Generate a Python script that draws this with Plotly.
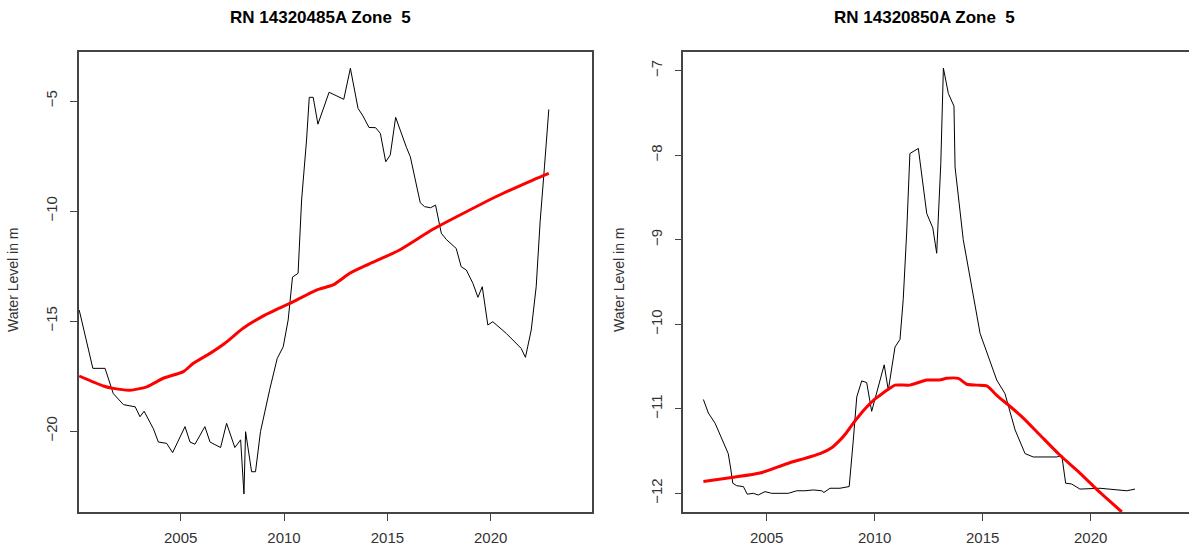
import plotly.graph_objects as go

# Bore RN 14320485A – observed water level (m) and smoothed trend
rn485_year = [2000.09, 2000.75, 2001.34, 2001.58, 2001.74, 2002.23, 2002.80, 2003.03, 2003.23,
              2003.68, 2003.92, 2004.32, 2004.61, 2005.21, 2005.45, 2005.69, 2006.17, 2006.42,
              2006.93, 2007.22, 2007.62, 2007.90, 2007.99, 2008.06, 2008.14, 2008.43, 2008.62,
              2008.86, 2009.31, 2009.67, 2009.96, 2010.20, 2010.41, 2010.68, 2010.85, 2011.09,
              2011.22, 2011.41, 2011.64, 2012.18, 2012.89, 2013.21, 2013.58, 2013.82, 2014.11,
              2014.43, 2014.66, 2014.92, 2015.14, 2015.40, 2015.92, 2016.11, 2016.59, 2016.80,
              2017.09, 2017.33, 2017.61, 2017.85, 2018.33, 2018.57, 2018.82, 2019.14, 2019.38,
              2019.59, 2019.86, 2020.10, 2020.75, 2021.47, 2021.68, 2021.96, 2022.20, 2022.39,
              2022.60, 2022.81]
rn485_level = [-14.50, -17.15, -17.15, -17.83, -18.30, -18.80, -18.90, -19.35, -19.10,
               -19.90, -20.50, -20.56, -20.98, -19.80, -20.50, -20.60, -19.80, -20.50,
               -20.75, -19.65, -20.75, -20.40, -21.60, -22.86, -20.03, -21.85, -21.85,
               -20.03, -18.10, -16.70, -16.17, -14.95, -13.00, -12.83, -9.50, -6.77,
               -4.83, -4.83, -6.05, -4.60, -4.92, -3.51, -5.33, -5.68, -6.20,
               -6.21, -6.47, -7.76, -7.45, -5.74, -7.10, -7.53, -9.62, -9.80,
               -9.85, -9.73, -11.01, -11.29, -11.70, -12.53, -12.68, -13.29, -13.92,
               -13.44, -15.18, -15.03, -15.56, -16.24, -16.65, -15.41, -13.44, -10.49,
               -7.99, -5.38]
rn485_trend_year = [2000.09, 2001.26, 2001.74, 2002.55, 2003.36, 2004.16, 2005.13, 2005.61,
                    2006.42, 2007.14, 2008.02, 2009.07, 2009.64, 2010.28, 2011.57, 2012.37,
                    2013.18, 2014.11, 2015.59, 2017.20, 2018.82, 2020.43, 2022.04, 2022.81]
rn485_trend = [-17.50, -17.95, -18.06, -18.14, -17.99, -17.60, -17.30, -16.92,
               -16.47, -16.01, -15.33, -14.73, -14.47, -14.20, -13.59, -13.36,
               -12.83, -12.41, -11.77, -10.83, -10.03, -9.27, -8.59, -8.29]

# Bore RN 14320850A – observed water level (m) and smoothed trend
rn850_year = [2002.07, 2002.30, 2002.61, 2002.92, 2003.22, 2003.33, 2003.43, 2003.61, 2003.92,
              2004.10, 2004.38, 2004.61, 2004.92, 2005.23, 2006.00, 2006.39, 2006.77, 2007.16,
              2007.55, 2007.65, 2007.93, 2008.39, 2008.82, 2009.01, 2009.17, 2009.40, 2009.63,
              2009.86, 2010.17, 2010.44, 2010.63, 2010.83, 2010.94, 2011.17, 2011.32, 2011.48,
              2011.63, 2012.02, 2012.41, 2012.69, 2012.87, 2013.06, 2013.18, 2013.41, 2013.67,
              2013.72, 2014.10, 2014.88, 2015.19, 2015.65, 2016.03, 2016.50, 2016.96, 2017.34,
              2018.43, 2018.66, 2018.84, 2019.12, 2019.50, 2020.43, 2021.67, 2022.05]
rn850_level = [-10.89, -11.05, -11.17, -11.35, -11.53, -11.70, -11.88, -11.91, -11.92,
               -12.01, -12.00, -12.02, -11.98, -12.00, -12.00, -11.97, -11.97, -11.96,
               -11.97, -11.99, -11.94, -11.94, -11.92, -11.37, -10.86, -10.67, -10.69,
               -11.03, -10.74, -10.48, -10.78, -10.42, -10.27, -10.18, -9.71, -8.92,
               -7.98, -7.92, -8.69, -8.86, -9.16, -8.10, -6.97, -7.27, -7.42,
               -8.14, -9.00, -10.11, -10.34, -10.66, -10.82, -11.25, -11.53, -11.57,
               -11.57, -11.55, -11.88, -11.89, -11.95, -11.94, -11.97, -11.95]
rn850_trend_year = [2002.07, 2003.46, 2004.69, 2005.93, 2007.47, 2008.01, 2008.47, 2008.70,
                    2009.01, 2009.32, 2009.63, 2009.94, 2010.25, 2010.63, 2010.94, 2011.63,
                    2012.41, 2012.99, 2013.33, 2013.87, 2014.26, 2014.72, 2015.19, 2015.65,
                    2016.26, 2016.88, 2017.65, 2018.58, 2019.50, 2020.43, 2021.44]
rn850_trend = [-11.86, -11.81, -11.76, -11.65, -11.53, -11.46, -11.35, -11.28,
               -11.17, -11.07, -10.98, -10.90, -10.84, -10.77, -10.72, -10.72,
               -10.66, -10.66, -10.64, -10.64, -10.71, -10.72, -10.73, -10.84,
               -10.97, -11.11, -11.31, -11.55, -11.76, -11.99, -12.22]

titles = ["RN 14320485A Zone  5", "RN 14320850A Zone  5"]
x_ticks = [2005, 2010, 2015, 2020]
y_ticks_485 = [-5, -10, -15, -20]
y_ticks_850 = [-7, -8, -9, -10, -11, -12]

W, H = 1189, 551
FONT = "Arial, Liberation Sans, Helvetica, sans-serif"
AX = "#444444"
TXT = "#333333"

fig = go.Figure()

fig.add_trace(go.Scatter(x=rn485_year, y=rn485_level, mode="lines",
                         line=dict(color="black", width=1), xaxis="x", yaxis="y"))
fig.add_trace(go.Scatter(x=rn485_trend_year, y=rn485_trend, mode="lines",
                         line=dict(color="#ff0000", width=3, shape="spline", smoothing=0.6),
                         xaxis="x", yaxis="y"))
fig.add_trace(go.Scatter(x=rn850_year, y=rn850_level, mode="lines",
                         line=dict(color="black", width=1), xaxis="x2", yaxis="y2"))
fig.add_trace(go.Scatter(x=rn850_trend_year, y=rn850_trend, mode="lines",
                         line=dict(color="#ff0000", width=3, shape="spline", smoothing=0.6),
                         xaxis="x2", yaxis="y2"))

ydom = [1 - 512 / H, 1 - 52 / H]


def xaxis(domain, rng, anchor):
    return dict(domain=domain, range=rng, anchor=anchor, tickvals=x_ticks,
                ticks="outside", ticklen=7, tickcolor=AX, tickwidth=1,
                showline=True, linecolor=AX, linewidth=1.5, mirror=True,
                showgrid=False, zeroline=False,
                tickfont=dict(family=FONT, size=15, color=TXT),
                ticklabelstandoff=4)


def yaxis(rng, anchor, ticks, mirror):
    return dict(domain=ydom, range=rng, anchor=anchor, tickvals=ticks,
                ticks="outside", ticklen=7, tickcolor=AX, tickwidth=1,
                showline=True, linecolor=AX, linewidth=1.5, mirror=mirror,
                showgrid=False, zeroline=False, tickangle=-90,
                tickfont=dict(family=FONT, size=15, color=TXT),
                ticklabelstandoff=7)


fig.update_layout(
    width=W, height=H,
    margin=dict(l=0, r=0, t=0, b=0),
    paper_bgcolor="white", plot_bgcolor="white",
    showlegend=False,
    xaxis=xaxis([79 / W, 592 / W], [2000.08, 2024.9], "y"),
    yaxis=yaxis([-23.68, -2.77], "x", y_ticks_485, True),
    xaxis2=xaxis([683.3 / W, 1.0], [2001.14, 2024.55], "y2"),
    yaxis2=yaxis([-12.221, -6.779], "x2", y_ticks_850, False),
)

# panel titles
for t, cx in zip(titles, [320, 924]):
    fig.add_annotation(text="<b>%s</b>" % t, x=cx / W, y=1 - 17 / H, xref="paper", yref="paper",
                       showarrow=False, xanchor="center", yanchor="middle",
                       font=dict(family=FONT, size=17, color="black"))

# y-axis labels
for cx in [13, 619]:
    fig.add_annotation(text="Water Level in m", x=cx / W, y=1 - 280 / H, xref="paper", yref="paper",
                       showarrow=False, xanchor="center", yanchor="middle", textangle=-90,
                       font=dict(family=FONT, size=14, color=TXT))

fig.write_html("out.html")
